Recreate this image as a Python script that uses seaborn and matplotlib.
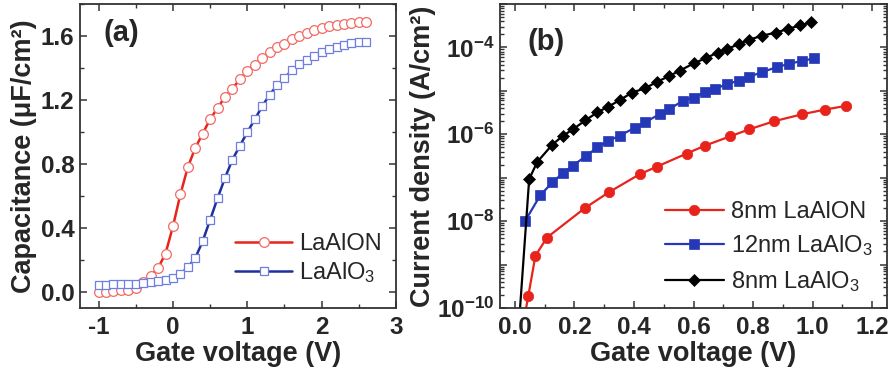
import numpy as np
import pandas as pd
import matplotlib
matplotlib.use("Agg")
import matplotlib.pyplot as plt
import matplotlib.ticker as mticker
import seaborn as sns

# ---------------- data: panel (a) C-V ----------------
cv_voltage = [-1.0, -0.9, -0.8, -0.7, -0.6, -0.5, -0.4, -0.3, -0.2, -0.1,
              0.0, 0.1, 0.2, 0.3, 0.4, 0.5, 0.6, 0.7, 0.8, 0.9,
              1.0, 1.1, 1.2, 1.3, 1.4, 1.5, 1.6, 1.7, 1.8, 1.9,
              2.0, 2.1, 2.2, 2.3, 2.4, 2.5, 2.6]
cap_laalon = [0.00, 0.00, 0.005, 0.01, 0.015, 0.025, 0.06, 0.10, 0.15, 0.24,
              0.41, 0.61, 0.78, 0.90, 0.99, 1.08, 1.15, 1.22, 1.27, 1.33,
              1.38, 1.42, 1.46, 1.50, 1.53, 1.55, 1.58, 1.60, 1.62, 1.64,
              1.65, 1.66, 1.67, 1.675, 1.68, 1.685, 1.685]
cap_laalo3 = [0.046, 0.046, 0.048, 0.048, 0.050, 0.052, 0.056, 0.060, 0.066, 0.077,
              0.087, 0.112, 0.154, 0.212, 0.318, 0.451, 0.586, 0.713, 0.827, 0.914,
              0.998, 1.079, 1.160, 1.233, 1.291, 1.337, 1.385, 1.422, 1.453, 1.478,
              1.501, 1.520, 1.534, 1.545, 1.555, 1.561, 1.565]

# ---------------- data: panel (b) J-V ----------------
jv_v_laalon = [0.03, 0.045, 0.069, 0.108, 0.235, 0.315, 0.419, 0.477, 0.577,
               0.639, 0.722, 0.787, 0.871, 0.966, 1.041, 1.111]
jv_j_laalon = [5e-11, 1.9e-10, 1.6e-9, 4.2e-9, 2.0e-8, 4.6e-8, 1.2e-7, 1.8e-7, 3.6e-7,
               5.5e-7, 8.9e-7, 1.3e-6, 2.0e-6, 2.9e-6, 3.7e-6, 4.5e-6]

jv_v_12nm = [0.034, 0.086, 0.126, 0.162, 0.195, 0.240, 0.277, 0.313, 0.352, 0.402,
             0.438, 0.486, 0.519, 0.564, 0.600, 0.637, 0.673, 0.711, 0.752, 0.787,
             0.830, 0.879, 0.921, 0.965, 1.005]
jv_j_12nm = [1.0e-8, 4.0e-8, 7.8e-8, 1.3e-7, 1.9e-7, 3.2e-7, 5.0e-7, 7.0e-7, 9.3e-7, 1.4e-6,
             1.9e-6, 2.9e-6, 3.8e-6, 5.9e-6, 7.0e-6, 9.2e-6, 1.1e-5, 1.44e-5, 1.7e-5, 2.1e-5,
             2.7e-5, 3.5e-5, 4.2e-5, 4.9e-5, 5.6e-5]

jv_v_8nm = [0.012, 0.048, 0.075, 0.126, 0.162, 0.195, 0.237, 0.277, 0.313, 0.352,
            0.393, 0.438, 0.476, 0.519, 0.553, 0.601, 0.642, 0.681, 0.711, 0.752,
            0.787, 0.830, 0.877, 0.916, 0.957, 0.996]
jv_j_8nm = [3e-11, 9.3e-8, 2.3e-7, 5.8e-7, 9.3e-7, 1.3e-6, 2.1e-6, 3.2e-6, 4.3e-6, 6.1e-6,
            9.1e-6, 1.15e-5, 1.6e-5, 2.2e-5, 2.9e-5, 4.3e-5, 5.7e-5, 7.6e-5, 9.0e-5, 1.2e-4,
            1.5e-4, 1.86e-4, 2.2e-4, 2.65e-4, 3.2e-4, 3.8e-4]

labels_a = ["LaAlON", "LaAlO$_3$"]
labels_b = ["8nm LaAlON", "12nm LaAlO$_3$", "8nm LaAlO$_3$"]

# ---------------- style ----------------
sns.set_style("ticks")
plt.rcParams.update({
    "font.family": ["Liberation Sans", "DejaVu Sans"],
    "mathtext.fontset": "custom",
    "mathtext.rm": "Liberation Sans",
    "mathtext.bf": "Liberation Sans:bold",
    "mathtext.it": "Liberation Sans:italic",
    "mathtext.default": "regular",
    "axes.unicode_minus": False,
    "axes.edgecolor": "#333333",
    "axes.linewidth": 1.3,
    "legend.numpoints": 1,
})

fig = plt.figure(figsize=(8.94, 3.74), dpi=100)
axa = fig.add_axes([80 / 894, 1 - 308 / 374, 316 / 894, 304 / 374])
axb = fig.add_axes([500 / 894, 1 - 308 / 374, 387 / 894, 304 / 374])

TICK_FS = 17.5
LABEL_FS = 19.5
LEG_FS = 17

# ---------------- panel (a) ----------------
df_a = pd.DataFrame({"V": cv_voltage, "LaAlON": cap_laalon, "LaAlO3": cap_laalo3})
sns.lineplot(data=df_a, x="V", y="LaAlON", ax=axa, color="#e8231c", lw=1.8,
             marker="o", markersize=7, markerfacecolor="white",
             markeredgecolor="#f26a64", markeredgewidth=0.9, label=labels_a[0])
sns.lineplot(data=df_a, x="V", y="LaAlO3", ax=axa, color="#1f2f9c", lw=1.8,
             marker="s", markersize=6.3, markerfacecolor="white",
             markeredgecolor="#6f7fe0", markeredgewidth=0.9, label=labels_a[1])
axa.set_xlim(-1.25, 3.0)
axa.set_ylim(-0.1, 1.8)
axa.xaxis.set_major_locator(mticker.MultipleLocator(1))
axa.xaxis.set_minor_locator(mticker.MultipleLocator(0.5))
axa.yaxis.set_major_locator(mticker.MultipleLocator(0.4))
axa.yaxis.set_minor_locator(mticker.MultipleLocator(0.2))
axa.xaxis.set_major_formatter(mticker.FuncFormatter(lambda v, p: "0" if abs(v) < 1e-9 else f"{v:.0f}"))
axa.yaxis.set_major_formatter(mticker.FuncFormatter(lambda v, p: "0.0" if abs(v) < 1e-9 else f"{v:.1f}"))
axa.set_xlabel("Gate voltage (V)", fontsize=LABEL_FS, fontweight="bold", labelpad=1)
axa.set_ylabel("Capacitance (μF/cm²)", fontsize=LABEL_FS, fontweight="bold", labelpad=3)
axa.text(0.075, 0.905, "(a)", transform=axa.transAxes, fontsize=21, fontweight="bold",
         ha="left", va="center")
axa.legend(loc="lower right", bbox_to_anchor=(1.0, 0.03), frameon=False, fontsize=LEG_FS,
           handlelength=2.4, handletextpad=0.3, labelspacing=0.2, borderaxespad=0.2)

# ---------------- panel (b) ----------------
df_b1 = pd.DataFrame({"V": jv_v_laalon, "J": jv_j_laalon})
df_b2 = pd.DataFrame({"V": jv_v_12nm, "J": jv_j_12nm})
df_b3 = pd.DataFrame({"V": jv_v_8nm, "J": jv_j_8nm})
axb.set_yscale("log")
sns.lineplot(data=df_b1, x="V", y="J", ax=axb, color="#e8231c", lw=1.6,
             marker="o", markersize=7.5, markeredgecolor="#e8231c",
             markeredgewidth=0.5, label=labels_b[0])
sns.lineplot(data=df_b2, x="V", y="J", ax=axb, color="#2438b8", lw=1.6,
             marker="s", markersize=6.5, markeredgecolor="#2438b8",
             markeredgewidth=0.5, label=labels_b[1])
sns.lineplot(data=df_b3, x="V", y="J", ax=axb, color="black", lw=1.6,
             marker="D", markersize=6.5, markeredgecolor="black",
             markeredgewidth=0.5, label=labels_b[2])
axb.set_xlim(-0.05, 1.25)
axb.set_ylim(1e-10, 1e-3)
axb.xaxis.set_major_locator(mticker.MultipleLocator(0.2))
axb.xaxis.set_minor_locator(mticker.MultipleLocator(0.1))
axb.xaxis.set_major_formatter(mticker.FormatStrFormatter("%.1f"))
axb.yaxis.set_major_locator(mticker.LogLocator(base=10, numticks=20))
axb.yaxis.set_minor_locator(mticker.LogLocator(base=10, subs=np.arange(2, 10), numticks=20))
axb.yaxis.set_minor_formatter(mticker.NullFormatter())


def _logfmt(v, pos):
    e = int(round(np.log10(v)))
    return rf"$\mathbf{{10^{{{e}}}}}$" if e % 2 == 0 else ""


axb.yaxis.set_major_formatter(mticker.FuncFormatter(_logfmt))
axb.set_xlabel("Gate voltage (V)", fontsize=LABEL_FS, fontweight="bold", labelpad=1)
axb.set_ylabel("Current density (A/cm²)", fontsize=LABEL_FS, fontweight="bold", labelpad=1)
axb.text(0.07, 0.875, "(b)", transform=axb.transAxes, fontsize=21, fontweight="bold",
         ha="left", va="center")
axb.legend(loc="lower right", bbox_to_anchor=(1.0, 0.0), frameon=False, fontsize=LEG_FS,
           handlelength=2.5, handletextpad=0.3, labelspacing=0.45, borderaxespad=0.2)

for ax in (axa, axb):
    ax.tick_params(which="both", direction="in", top=True, right=True,
                   bottom=True, left=True, color="#333333")
    ax.tick_params(which="major", length=5, width=1.1)
    ax.tick_params(which="minor", length=3, width=1.0)
    ax.tick_params(axis="x", which="both", pad=6)
    ax.tick_params(axis="y", which="both", pad=4)
    for lab in ax.get_xticklabels() + ax.get_yticklabels():
        lab.set_fontsize(TICK_FS)
        lab.set_fontweight("bold")
    for s in ax.spines.values():
        s.set_visible(True)

fig.savefig("out.png", dpi=100)
